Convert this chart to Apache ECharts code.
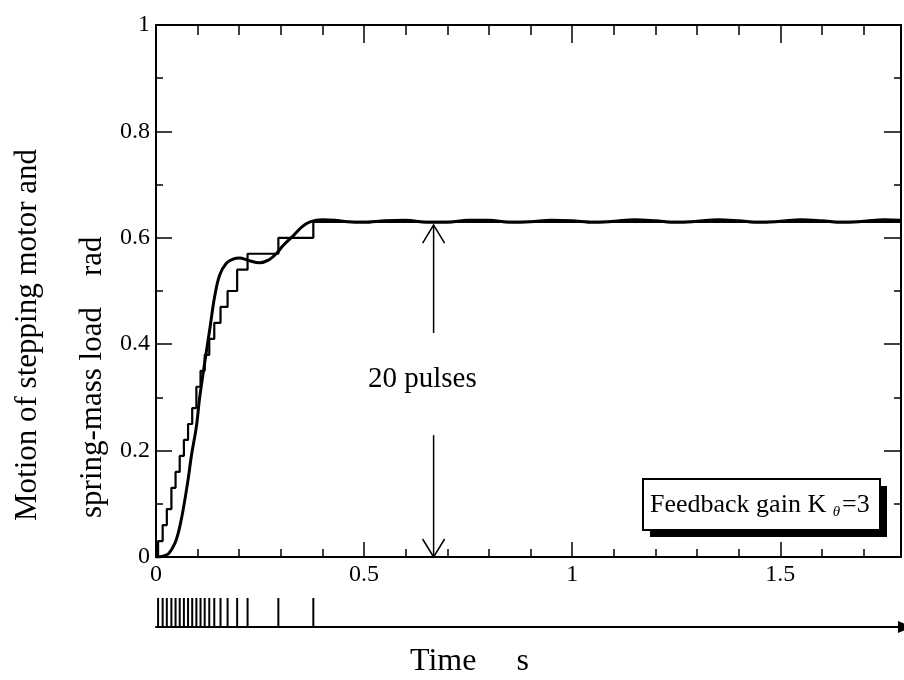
<!DOCTYPE html>
<html>
<head>
<meta charset="utf-8">
<script src="https://cdn.jsdelivr.net/npm/echarts@6/dist/echarts.min.js"></script>
<style>
  html, body { margin: 0; padding: 0; background: #fff; }
  #chart { width: 904px; height: 680px; }
</style>
</head>
<body>
<div id="chart"></div>
<script>
// Step response of a stepping motor driving a spring-mass load (feedback gain K_theta = 3)
const FONT = '"Liberation Serif", "Times New Roman", serif';

// time axis range, s
const xMax = 1.79;

// instants of the 20 drive pulses, s
const pulseTimes = [0.005, 0.016, 0.026, 0.037, 0.047, 0.057, 0.067, 0.077, 0.087, 0.097,
                    0.107, 0.117, 0.128, 0.140, 0.155, 0.172, 0.195, 0.220, 0.294, 0.378];
// motor angle after each pulse, rad
const motorAngle = [0.03, 0.06, 0.09, 0.13, 0.16, 0.19, 0.22, 0.25, 0.28, 0.32,
                    0.35, 0.38, 0.41, 0.44, 0.47, 0.50, 0.54, 0.57, 0.60, 0.63];

// spring-mass load response
const loadTime  = [0, 0.015, 0.03, 0.045, 0.055, 0.065, 0.077, 0.085, 0.097, 0.105,
                   0.117, 0.129, 0.141, 0.153, 0.169, 0.185, 0.201, 0.22, 0.249, 0.27,
                   0.29, 0.306, 0.33, 0.35, 0.37, 0.40, 0.43, 0.46, 0.50, 0.55,
                   0.60, 0.65, 0.70, 0.75, 0.80, 0.85, 0.90, 0.95, 1.00, 1.05,
                   1.10, 1.15, 1.20, 1.25, 1.30, 1.35, 1.40, 1.45, 1.50, 1.55,
                   1.60, 1.65, 1.70, 1.75, 1.79];
const loadAngle = [0, 0.001, 0.006, 0.025, 0.05, 0.088, 0.145, 0.19, 0.245, 0.30,
                   0.365, 0.427, 0.49, 0.530, 0.552, 0.560, 0.562, 0.558, 0.553, 0.558,
                   0.571, 0.586, 0.604, 0.620, 0.630, 0.634, 0.633, 0.630, 0.629, 0.632,
                   0.633, 0.629, 0.629, 0.633, 0.633, 0.629, 0.630, 0.633, 0.632, 0.629,
                   0.631, 0.634, 0.632, 0.629, 0.631, 0.634, 0.632, 0.629, 0.631, 0.634,
                   0.632, 0.629, 0.631, 0.634, 0.633];

// "20 pulses" dimension arrow (time, angle)
const arrowTime = 0.667;
const arrowTop = 0.624;
const arrowGapTop = 0.421;
const arrowGapBottom = 0.229;
const arrowBottom = 0.0;
const arrowLabel = '20 pulses';
const arrowLabelAt = [0.64, 0.333];

const yTitle1 = 'Motion of stepping motor and';
const yTitle2 = 'spring-mass load    rad';
const xTitle = 'Time     s';

const motorData = [[0, 0]];
pulseTimes.forEach((t, i) => motorData.push([t, motorAngle[i]]));
motorData.push([xMax, motorAngle[motorAngle.length - 1]]);
const loadData = loadTime.map((t, i) => [t, loadAngle[i]]);
const pulseData = pulseTimes.map(t => [t, 1]);

const chart = echarts.init(document.getElementById('chart'), null, { renderer: 'canvas' });

const labelStyle = { show: true, color: '#000', fontFamily: FONT, fontSize: 24 };
function tick(len) {
  return { show: true, inside: true, length: len, lineStyle: { color: '#000', width: 1.5 } };
}
function xAxisDef(pos, interval, len, withLabels) {
  return {
    type: 'value', gridIndex: 0, position: pos, min: 0, max: xMax, interval: interval,
    axisLine: { show: false, onZero: false },
    axisTick: tick(len),
    axisLabel: withLabels ? Object.assign({ margin: 6, showMaxLabel: false }, labelStyle) : { show: false },
    splitLine: { show: false }
  };
}
function yAxisDef(pos, interval, len, withLabels) {
  return {
    type: 'value', gridIndex: 0, position: pos, min: 0, max: 1, interval: interval,
    axisLine: { show: false, onZero: false },
    axisTick: tick(len),
    axisLabel: withLabels ? Object.assign({ margin: 6 }, labelStyle) : { show: false },
    splitLine: { show: false }
  };
}

chart.setOption({
  animation: false,
  backgroundColor: '#fff',
  grid: [
    { left: 156, top: 25, right: 3, height: 532, show: true, borderColor: '#000', borderWidth: 2, backgroundColor: 'transparent' },
    { left: 156, top: 598, right: 3, height: 29 }
  ],
  xAxis: [
    xAxisDef('bottom', 0.5, 15, true),
    xAxisDef('bottom', 0.1, 8, false),
    xAxisDef('top', 0.5, 18, false),
    xAxisDef('top', 0.1, 10, false),
    {
      type: 'value', gridIndex: 1, min: 0, max: xMax,
      axisLine: { show: true, onZero: false, symbol: ['none', 'triangle'], symbolSize: [12, 14], symbolOffset: [0, 4],
                  lineStyle: { color: '#000', width: 2 } },
      axisTick: { show: false }, axisLabel: { show: false }, splitLine: { show: false }
    }
  ],
  yAxis: [
    yAxisDef('left', 0.2, 16, true),
    yAxisDef('left', 0.1, 7, false),
    yAxisDef('right', 0.2, 17, false),
    yAxisDef('right', 0.1, 7, false),
    { type: 'value', gridIndex: 1, min: 0, max: 1, show: false }
  ],
  series: [
    {
      name: 'motor', type: 'line', xAxisIndex: 0, yAxisIndex: 0, data: motorData,
      step: 'end', showSymbol: false, lineStyle: { color: '#000', width: 2.2 }, z: 3
    },
    {
      name: 'load', type: 'line', xAxisIndex: 0, yAxisIndex: 0, data: loadData,
      smooth: 0.35, showSymbol: false, lineStyle: { color: '#000', width: 3 }, z: 4
    },
    {
      name: 'pulses', type: 'bar', xAxisIndex: 4, yAxisIndex: 4, data: pulseData,
      barWidth: 2, itemStyle: { color: '#000' }
    }
  ]
});

// annotations positioned from data coordinates
const px = (t, v) => chart.convertToPixel({ gridIndex: 0 }, [t, v]);
const pTop = px(arrowTime, arrowTop);
const pGapTop = px(arrowTime, arrowGapTop);
const pGapBottom = px(arrowTime, arrowGapBottom);
const pBottom = px(arrowTime, arrowBottom);
const pLabel = px(arrowLabelAt[0], arrowLabelAt[1]);
const thin = { stroke: '#000', lineWidth: 1.5, fill: null };

chart.setOption({
  graphic: [
    // dimension arrow
    { type: 'polyline', shape: { points: [pGapTop, pTop] }, style: thin },
    { type: 'polyline', shape: { points: [[pTop[0] - 11, pTop[1] + 18], pTop, [pTop[0] + 11, pTop[1] + 18]] }, style: thin },
    { type: 'polyline', shape: { points: [pGapBottom, pBottom] }, style: thin },
    { type: 'polyline', shape: { points: [[pBottom[0] - 11, pBottom[1] - 18], pBottom, [pBottom[0] + 11, pBottom[1] - 18]] }, style: thin },
    { type: 'text', x: pLabel[0], y: pLabel[1],
      style: { text: arrowLabel, fontFamily: FONT, fontSize: 29, fill: '#000', align: 'center', verticalAlign: 'middle' } },
    // gain box with drop shadow
    { type: 'rect', shape: { x: 650, y: 486, width: 237, height: 51 }, style: { fill: '#000' }, z: 10 },
    { type: 'rect', shape: { x: 643, y: 479, width: 237, height: 51 }, style: { fill: '#fff', stroke: '#000', lineWidth: 2 }, z: 11 },
    { type: 'text', x: 650, y: 505, z: 12,
      style: { text: 'Feedback gain K {s|θ}=3', fontFamily: FONT, fontSize: 26, fill: '#000', verticalAlign: 'middle',
               rich: { s: { fontFamily: FONT, fontSize: 15, fontStyle: 'italic', fill: '#000', padding: [14, 2, 0, 0] } } } },
    // axis titles
    { type: 'text', x: 28, y: 521, rotation: Math.PI / 2,
      style: { text: yTitle1, fontFamily: FONT, fontSize: 31, fill: '#000', align: 'left', verticalAlign: 'middle' } },
    { type: 'text', x: 93, y: 518, rotation: Math.PI / 2,
      style: { text: yTitle2, fontFamily: FONT, fontSize: 31, fill: '#000', align: 'left', verticalAlign: 'middle' } },
    { type: 'text', x: 410, y: 662,
      style: { text: xTitle, fontFamily: FONT, fontSize: 32, fill: '#000', align: 'left', verticalAlign: 'middle' } }
  ]
});
</script>
</body>
</html>
